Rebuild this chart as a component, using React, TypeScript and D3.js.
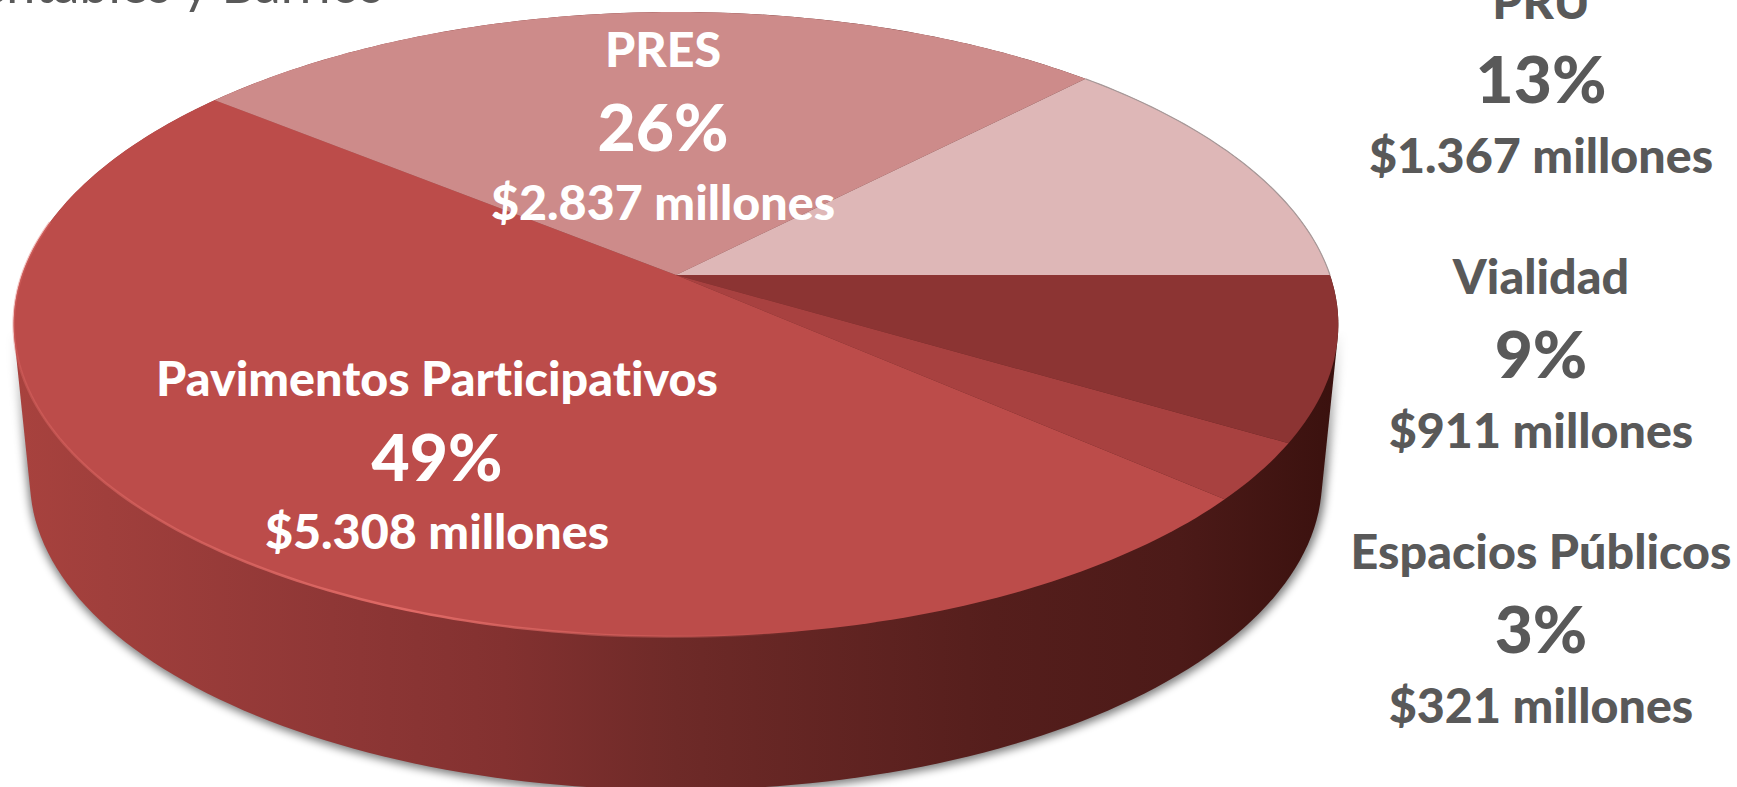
import React from 'react';
import * as d3 from 'd3';

const WIDTH = 1737;
const HEIGHT = 787;

// Chart data, in pie order: clockwise from the horizontal right of the centre
const categories = ['Vialidad', 'Espacios Públicos', 'Pavimentos Participativos', 'PRES', 'PRU'];
const amounts = [911, 321, 5308, 2837, 1367];
const shares = [9, 3, 49, 26, 13];

const sliceColors = ['#8c3433', '#a84140', '#bc4c4a', '#cd8b8a', '#deb7b7'];
const wallStops = [
  [0, '#a8423e'],
  [0.07, '#a03f3c'],
  [0.24, '#8f3736'],
  [0.37, '#833130'],
  [0.5, '#6e2a28'],
  [0.74, '#551e1c'],
  [0.88, '#4c1a18'],
  [1, '#3a110e'],
];

// Label anchors: centre x, then the three baselines
const labelLayout = [
  { x: 1541, y: [294, 378, 448], fill: '#595959' },
  { x: 1541, y: [569, 653, 723], fill: '#595959' },
  { x: 437, y: [396, 481, 549], fill: '#ffffff' },
  { x: 663, y: [67, 151, 220], fill: '#ffffff' },
  { x: 1541, y: [19, 103, 173], fill: '#595959' },
];

const locale = d3.formatLocale({ decimal: ',', thousands: '.', grouping: [3], currency: ['$', ''] });
const formatAmount = (d: number) => `$${locale.format(',')(d)} millones`;

// Perspective of the pie's top face
const TILT = 0.158;
const xScale = d3.scaleLinear().domain([-1, 1]).range([676 - 654, 676 + 654]);
const yScale = d3.scaleLinear().domain([-1, 1]).range([275 - 304.6, 275 + 304.6]);

const project = (angle: number): [number, number] => {
  const u = Math.sin(angle);
  const v = -Math.cos(angle);
  const w = 1 - TILT * v;
  return [xScale(u / w), yScale(v / w)];
};

const sampleArc = (a0: number, a1: number) => {
  const n = Math.max(2, Math.ceil(Math.abs(a1 - a0) * 60));
  return d3.range(n + 1).map((i) => project(a0 + ((a1 - a0) * i) / n));
};

const line = d3.line();

const pie = d3
  .pie<number>()
  .sort(null)
  .startAngle(Math.PI / 2)
  .endAngle(Math.PI / 2 + 2 * Math.PI);

const slices = pie(amounts);

// Bottom rim, narrower than the top because of the perspective
const bottomRim = d3.range(240).map((i): [number, number] => {
  const t = (i / 240) * 2 * Math.PI;
  return [676 + 646 * Math.cos(t), 480 + 310 * Math.sin(t)];
});
const topRim = sampleArc(0, 2 * Math.PI);
const hull = d3.polygonHull([...topRim, ...bottomRim]) as [number, number][];
const centre: [number, number] = [xScale(0), yScale(0)];

const App = () => {
  return (
    <svg
      width={WIDTH}
      height={HEIGHT}
      style={{ position: 'absolute', left: 0, top: 0, fontFamily: 'Lato, sans-serif', fontVariantLigatures: 'none' }}
    >
      <defs>
        <linearGradient id="wall" gradientUnits="userSpaceOnUse" x1={14} x2={1338} y1={0} y2={0}>
          {wallStops.map(([o, c]) => (
            <stop key={o} offset={o as number} stopColor={c as string} />
          ))}
        </linearGradient>
        <linearGradient id="rim" gradientUnits="userSpaceOnUse" x1={20} x2={800} y1={0} y2={0}>
          <stop offset={0} stopColor="#e06a66" stopOpacity={0.4} />
          <stop offset={0.5} stopColor="#e06a66" stopOpacity={1} />
          <stop offset={1} stopColor="#e06a66" stopOpacity={0} />
        </linearGradient>
        <filter id="shadow" x="-5%" y="-5%" width="110%" height="110%">
          <feGaussianBlur stdDeviation={4} />
        </filter>
        {/* the shadow only shows beside and below the wall, fading in going down */}
        <linearGradient id="shadowFade" gradientUnits="userSpaceOnUse" x1={0} x2={0} y1={330} y2={470}>
          <stop offset={0} stopColor="#000" />
          <stop offset={1} stopColor="#fff" />
        </linearGradient>
        <mask id="shadowMask" maskUnits="userSpaceOnUse" x={0} y={0} width={WIDTH} height={HEIGHT}>
          <rect x={0} y={0} width={WIDTH} height={HEIGHT} fill="url(#shadowFade)" />
        </mask>
      </defs>

      <text x={383} y={3} textAnchor="end" fontSize={52} fill="#595959">
        Sustentables y Barrios
      </text>

      <g mask="url(#shadowMask)">
        <path
          d={line(hull) + 'Z'}
          transform="translate(1,1)"
          fill="#000"
          stroke="#000"
          strokeWidth={6}
          opacity={0.5}
          filter="url(#shadow)"
        />
      </g>
      <path d={line(hull) + 'Z'} fill="url(#wall)" />

      {slices.map((s, i) => (
        <path
          key={categories[i]}
          d={line([centre, ...sampleArc(s.startAngle, s.endAngle)]) + 'Z'}
          fill={sliceColors[i]}
        />
      ))}

      <path
        d={line(sampleArc(slices[2].startAngle, slices[2].startAngle + 2.6)) as string}
        fill="none"
        stroke="url(#rim)"
        strokeWidth={2.5}
      />
      <path
        d={line(sampleArc(slices[4].startAngle, slices[4].endAngle)) as string}
        fill="none"
        stroke="#a89a9a"
        strokeWidth={1.2}
      />

      {categories.map((name, i) => {
        const { x, y, fill } = labelLayout[i];
        const rows: [string, number][] = [
          [name, 47],
          [`${shares[i]}%`, 64],
          [formatAmount(amounts[i]), 47],
        ];
        return (
          <g key={name} fill={fill} textAnchor="middle">
            {rows.map(([text, size], r) => (
              <text
                key={r}
                transform={`translate(${x},${y[r]}) scale(1.03,1)`}
                fontSize={size}
                fontWeight={900}
              >
                {text}
              </text>
            ))}
          </g>
        );
      })}
    </svg>
  );
};

export default App;
